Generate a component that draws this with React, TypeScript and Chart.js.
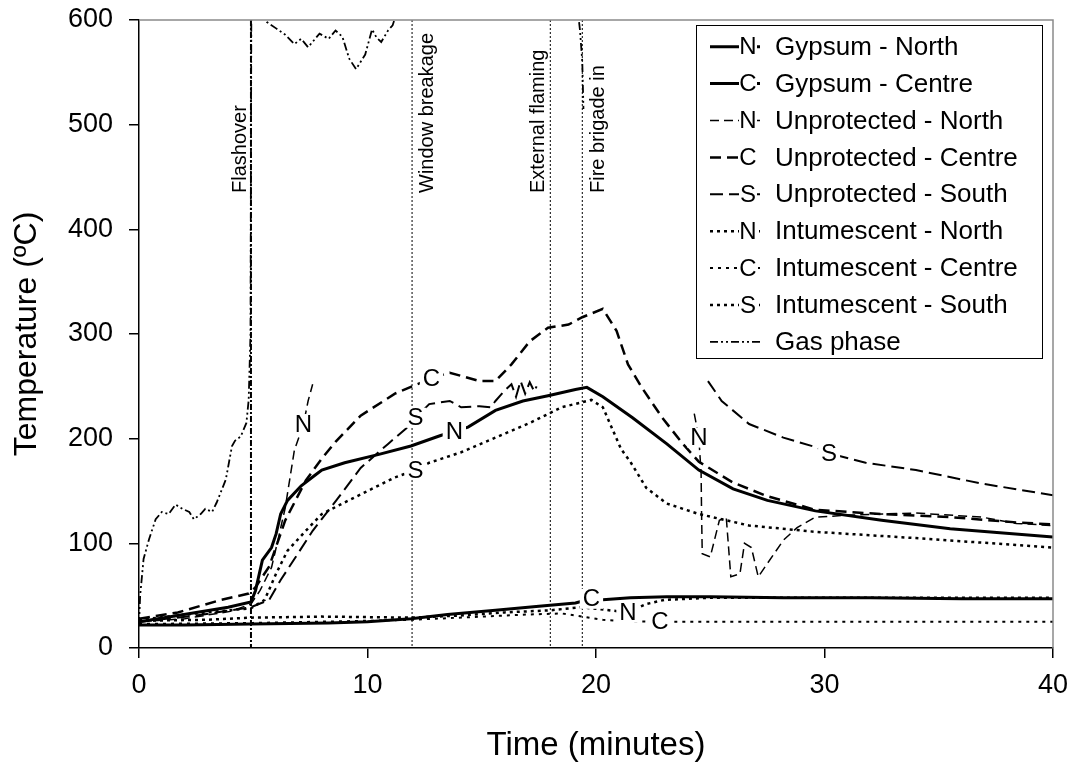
import React, { useEffect, useRef } from "react";
import { Chart, registerables } from "chart.js";

Chart.register(...registerables);

type Pt = [number, number | null];

// ---- DATA (time in minutes, temperature in ºC) ----
const gypsumNorth: Pt[] = [
  [0, 25], [1.7, 31], [3.9, 39], [4.9, 44], [5.1, 55], [5.4, 84], [5.8, 96], [6.0, 109],
  [6.2, 128], [6.5, 141], [7.1, 155], [7.7, 165], [8.0, 170], [9.0, 177], [10.5, 185],
  [11.9, 193], [13.2, 203], [13.8, 207], [14.4, 211], [15.6, 227], [16.8, 236], [17.9, 241],
  [19.1, 247], [19.6, 249], [20.3, 240], [21.6, 220], [23.1, 195], [24.5, 170], [26.0, 152],
  [27.5, 141], [29.6, 131], [32.5, 122], [35.5, 114], [40, 106],
];
const gypsumCentre: Pt[] = [
  [0, 22], [2, 22], [4.9, 23], [8.3, 24], [10, 25], [11.9, 28], [13.5, 32], [15.6, 36],
  [17.5, 40], [19.1, 43], [19.8, 47], [20.3, 46], [21.5, 48], [23.1, 49], [25, 49],
  [28.2, 48], [32, 48], [36, 47], [40, 47],
];
const unprotectedNorth: Pt[] = [
  [0, 25], [2, 28], [4, 35], [4.9, 42], [5.3, 55], [5.8, 77], [6.1, 105], [6.4, 134],
  [6.8, 189], [7.2, 214], [7.4, 236], [7.6, 252], [7.7, null], [24.2, null], [24.3, 224],
  [24.5, 201], [24.6, 167], [24.62, 129], [24.65, 90], [25.0, 87], [25.4, 122], [25.7, 125],
  [25.9, 68], [26.3, 71], [26.5, 100], [26.8, 96], [27.1, 68], [28.2, 103], [28.8, 115],
  [29.6, 125], [31.1, 127], [34, 129], [36.9, 125], [38.4, 119], [40, 117],
];
const unprotectedCentre: Pt[] = [
  [0, 28], [1.7, 34], [3.6, 46], [4.8, 52], [5.1, 58], [5.7, 78], [6.4, 122], [7.3, 160],
  [8.0, 181], [8.6, 197], [9.7, 222], [11.2, 243], [12.4, 254], [12.8, 258], [13.6, 263],
  [14.9, 255], [15.6, 255], [16.3, 271], [17.1, 293], [17.9, 306], [18.8, 309], [19.4, 316],
  [20.3, 324], [20.9, 303], [21.4, 271], [22.0, 249], [22.9, 220], [23.8, 195], [24.5, 178],
  [26.0, 158], [27.5, 145], [29.6, 132], [32.5, 128], [35.5, 125], [38.4, 120], [40, 118],
];
const unprotectedSouth: Pt[] = [
  [0, 25], [2.5, 31], [4.9, 39], [5.7, 46], [6.2, 65], [6.8, 85], [7.6, 112], [8.6, 140],
  [9.7, 172], [10.9, 195], [11.7, 210], [12.1, 220], [12.7, 233], [13.6, 236], [14.1, 230],
  [14.9, 231], [15.4, 230], [15.6, 236], [16.0, 246], [16.3, 252], [16.5, 240], [16.7, 255],
  [16.9, 243], [17.1, 254], [17.3, 245], [17.4, 250], [17.5, null], [24.8, null], [24.9, 255],
  [25.5, 236], [26.7, 214], [28.2, 201], [29.6, 192], [30.2, 186], [31.8, 177], [34.0, 170],
  [36.9, 157], [40, 146],
];
const intumescentNorth: Pt[] = [
  [0, 26], [3, 27], [4.9, 29], [8, 30], [11.9, 29], [14, 31], [16, 34], [18, 36],
  [19.3, 39], [20.2, 37], [21.4, 34], [22.2, 42], [23, 46], [25, 48], [30, 48], [40, 48],
];
const intumescentCentre: Pt[] = [
  [0, 23], [5, 24], [10, 26], [12, 27], [15, 30], [17, 32], [18.5, 33], [19.4, 30],
  [20.3, 27], [21, 26], [22.8, 25], [30, 25], [40, 25],
];
const intumescentSouth: Pt[] = [
  [0, 27], [2.5, 33], [4.9, 38], [5.5, 46], [6.0, 71], [6.5, 93], [7.3, 112], [8.0, 128],
  [8.9, 138], [10.0, 150], [11.2, 163], [12.1, 170], [12.7, 177], [14.1, 187], [15.6, 201],
  [17.1, 215], [18.5, 230], [19.8, 237], [20.3, 230], [20.7, 210], [21.1, 190], [21.5, 178],
  [22.2, 153], [23.1, 138], [24.5, 128], [26.7, 117], [29.6, 111], [34.0, 105], [40, 96],
];
const gasPhase: Pt[] = [
  [0, 22], [0.05, 50], [0.2, 85], [0.44, 104], [0.73, 123], [1.0, 130], [1.3, 128],
  [1.6, 137], [1.9, 133], [2.2, 130], [2.4, 123], [2.7, 128], [2.9, 133], [3.2, 130],
  [3.4, 139], [3.8, 161], [4.07, 193], [4.2, 198], [4.45, 202], [4.7, 215], [4.8, 237],
  [4.88, 300], [4.92, 640], [5.3, 610], [5.6, 598], [6.0, 592], [6.4, 586], [6.8, 577],
  [7.1, 582], [7.4, 574], [7.9, 587], [8.3, 582], [8.6, 590], [8.9, 584], [9.2, 563],
  [9.5, 553], [9.9, 567], [10.2, 591], [10.4, 583], [10.6, 579], [10.9, 590], [11.1, 595],
  [11.4, 615], [12, 650], [14, 660], [16, 655], [18, 650], [19.0, 640], [19.25, 600],
  [19.3, 590], [19.4, 560], [19.45, 515],
];

const seriesData: Pt[][] = [
  gypsumNorth, gypsumCentre, unprotectedNorth, unprotectedCentre, unprotectedSouth,
  intumescentNorth, intumescentCentre, intumescentSouth, gasPhase,
];
const seriesNames = [
  "Gypsum - North", "Gypsum - Centre", "Unprotected - North", "Unprotected - Centre",
  "Unprotected - South", "Intumescent - North", "Intumescent - Centre", "Intumescent - South",
  "Gas phase",
];
const seriesMarkers = ["N", "C", "N", "C", "S", "N", "C", "S", ""];

// letter markers along curves: [series index, time, letter]
const curveLabels: [number, number, string][] = [
  [0, 13.8, "N"], [1, 19.8, "C"], [2, 7.2, "N"], [2, 24.5, "N"], [3, 12.8, "C"],
  [4, 12.1, "S"], [4, 30.2, "S"], [5, 21.4, "N"], [6, 22.8, "C"], [7, 12.1, "S"],
];

const eventTimes = [4.9, 11.95, 18.0, 19.4];
const eventNames = ["Flashover", "Window breakage", "External flaming", "Fire brigade in"];

const xTicks = [0, 10, 20, 30, 40];
const yTicks = [0, 100, 200, 300, 400, 500, 600];

// ---- STYLES ----
const FONT = "'Liberation Sans', Arial, sans-serif";
const lineStyles = [
  { w: 3, dash: [] as number[] },
  { w: 3, dash: [] as number[] },
  { w: 1.5, dash: [9, 5] },
  { w: 2.5, dash: [11, 6] },
  { w: 2, dash: [13, 6] },
  { w: 2.5, dash: [3, 4] },
  { w: 2, dash: [3, 5] },
  { w: 2.5, dash: [3, 4] },
  { w: 1.8, dash: [8, 3, 2, 3, 2, 3] },
];
const eventStyles = [
  { w: 2, dash: [6, 2, 2, 2], textOffset: -5 },
  { w: 1, dash: [2, 2], textOffset: 21 },
  { w: 1, dash: [2, 2], textOffset: -6 },
  { w: 1, dash: [2, 2], textOffset: 22 },
];

function valueAt(series: Pt[], t: number): number | null {
  for (let i = 0; i < series.length - 1; i++) {
    const a = series[i];
    const b = series[i + 1];
    if (a[1] == null || b[1] == null) continue;
    if (t >= a[0] && t <= b[0]) {
      const f = b[0] === a[0] ? 0 : (t - a[0]) / (b[0] - a[0]);
      return a[1] + f * (b[1] - a[1]);
    }
  }
  return null;
}

const overlayPlugin = {
  id: "overlay",
  beforeDatasetsDraw(chart: any) {
    const { ctx, chartArea, scales } = chart;
    const x = scales.x;
    eventTimes.forEach((t, i) => {
      const px = x.getPixelForValue(t);
      const st = eventStyles[i];
      ctx.save();
      ctx.strokeStyle = "#000";
      ctx.lineWidth = st.w;
      ctx.setLineDash(st.dash);
      ctx.beginPath();
      ctx.moveTo(px, chartArea.top);
      ctx.lineTo(px, chartArea.bottom);
      ctx.stroke();
      ctx.restore();
    });
  },
  afterDatasetDraw(chart: any, args: any) {
    const idx = args.index;
    const { ctx, scales } = chart;
    ctx.save();
    ctx.font = `24px ${FONT}`;
    ctx.textAlign = "center";
    ctx.textBaseline = "middle";
    curveLabels.forEach(([si, t, letter]) => {
      if (si !== idx) return;
      const v = valueAt(seriesData[si], t);
      if (v == null) return;
      const px = scales.x.getPixelForValue(t);
      const py = scales.y.getPixelForValue(v);
      const w = ctx.measureText(letter).width + 6;
      ctx.fillStyle = "#fff";
      ctx.fillRect(px - w / 2, py - 10, w, 20);
      ctx.fillStyle = "#000";
      ctx.fillText(letter, px, py + 1);
    });
    ctx.restore();
  },
  afterDatasetsDraw(chart: any) {
    const { ctx, chartArea, scales } = chart;
    // grey frame on top and right
    ctx.save();
    ctx.strokeStyle = "#8a8a8a";
    ctx.lineWidth = 1.5;
    ctx.setLineDash([]);
    ctx.beginPath();
    ctx.moveTo(chartArea.left, chartArea.top);
    ctx.lineTo(chartArea.right, chartArea.top);
    ctx.lineTo(chartArea.right, chartArea.bottom);
    ctx.stroke();
    ctx.restore();

    // event labels (rotated)
    ctx.save();
    ctx.font = `20px ${FONT}`;
    ctx.fillStyle = "#000";
    ctx.textAlign = "left";
    ctx.textBaseline = "alphabetic";
    eventTimes.forEach((t, i) => {
      const px = scales.x.getPixelForValue(t) + eventStyles[i].textOffset;
      ctx.save();
      ctx.translate(px, chartArea.top + 173);
      ctx.rotate(-Math.PI / 2);
      ctx.fillText(eventNames[i], 0, 0);
      ctx.restore();
    });
    ctx.restore();

    // legend
    const bx = 696, by = 25, bw = 346, bh = 333;
    ctx.save();
    ctx.fillStyle = "#fff";
    ctx.fillRect(bx, by, bw, bh);
    ctx.strokeStyle = "#000";
    ctx.lineWidth = 1;
    ctx.strokeRect(bx + 0.5, by + 0.5, bw, bh);
    seriesNames.forEach((name, i) => {
      const cy = 46.7 + i * 36.9;
      const st = lineStyles[i];
      ctx.save();
      ctx.strokeStyle = "#000";
      ctx.lineWidth = st.w;
      ctx.setLineDash(st.dash);
      ctx.beginPath();
      ctx.moveTo(710, cy);
      ctx.lineTo(760, cy);
      ctx.stroke();
      ctx.restore();
      const mk = seriesMarkers[i];
      if (mk) {
        ctx.fillStyle = "#fff";
        ctx.fillRect(739, cy - 11, 18, 22);
        ctx.fillStyle = "#000";
        ctx.font = `24px ${FONT}`;
        ctx.textAlign = "center";
        ctx.textBaseline = "middle";
        ctx.fillText(mk, 748, cy + 1);
      }
      ctx.fillStyle = "#000";
      ctx.font = `26px ${FONT}`;
      ctx.textAlign = "left";
      ctx.textBaseline = "middle";
      ctx.fillText(name, 775, cy + 1);
    });
    ctx.restore();
  },
};

export default function App() {
  const ref = useRef<HTMLCanvasElement | null>(null);
  useEffect(() => {
    if (!ref.current) return;
    const datasets = seriesData.map((s, i) => ({
      label: seriesNames[i],
      data: s.map(([t, v]) => ({ x: t, y: v })),
      borderColor: "#000",
      backgroundColor: "#000",
      borderWidth: lineStyles[i].w,
      borderDash: lineStyles[i].dash,
      pointRadius: 0,
      tension: 0,
      fill: false,
      spanGaps: false,
    }));
    const chart = new Chart(ref.current, {
      type: "line",
      data: { datasets },
      options: {
        animation: false,
        responsive: false,
        devicePixelRatio: 1,
        layout: { padding: { top: 20, right: 22, left: 0, bottom: 0 } },
        plugins: { legend: { display: false }, tooltip: { enabled: false } },
        scales: {
          x: {
            type: "linear",
            min: 0,
            max: 40,
            afterBuildTicks: (s: any) => {
              s.ticks = xTicks.map((v) => ({ value: v }));
            },
            afterFit: (s: any) => {
              s.height = 114;
              s.paddingLeft = 0;
              s.paddingRight = 0;
            },
            ticks: { color: "#000", font: { family: FONT, size: 27 }, padding: 11 },
            grid: { drawOnChartArea: false, tickLength: 10, color: "#000", lineWidth: 1.5 },
            border: { color: "#000", width: 1.5 },
            title: {
              display: true,
              text: "Time (minutes)",
              color: "#000",
              font: { family: FONT, size: 33, lineHeight: 1 },
              padding: { top: 0, bottom: 0 },
            },
          },
          y: {
            type: "linear",
            min: 0,
            max: 600,
            afterBuildTicks: (s: any) => {
              s.ticks = yTicks.map((v) => ({ value: v }));
            },
            afterFit: (s: any) => {
              s.width = 139;
              s.paddingTop = 0;
              s.paddingBottom = 0;
            },
            ticks: { color: "#000", font: { family: FONT, size: 27 }, padding: 16 },
            grid: { drawOnChartArea: false, tickLength: 10, color: "#000", lineWidth: 1.5 },
            border: { color: "#000", width: 1.5 },
            title: {
              display: true,
              text: "Temperature (ºC)",
              color: "#000",
              font: { family: FONT, size: 32, lineHeight: 1.2 },
              padding: { top: 8, bottom: 0 },
            },
          },
        },
      },
      plugins: [overlayPlugin],
    });
    return () => chart.destroy();
  }, []);
  return (
    <div style={{ position: "fixed", left: 0, top: 0, width: 1075, height: 762, background: "#fff" }}>
      <canvas ref={ref} width={1075} height={762} style={{ width: 1075, height: 762 }} />
    </div>
  );
}
